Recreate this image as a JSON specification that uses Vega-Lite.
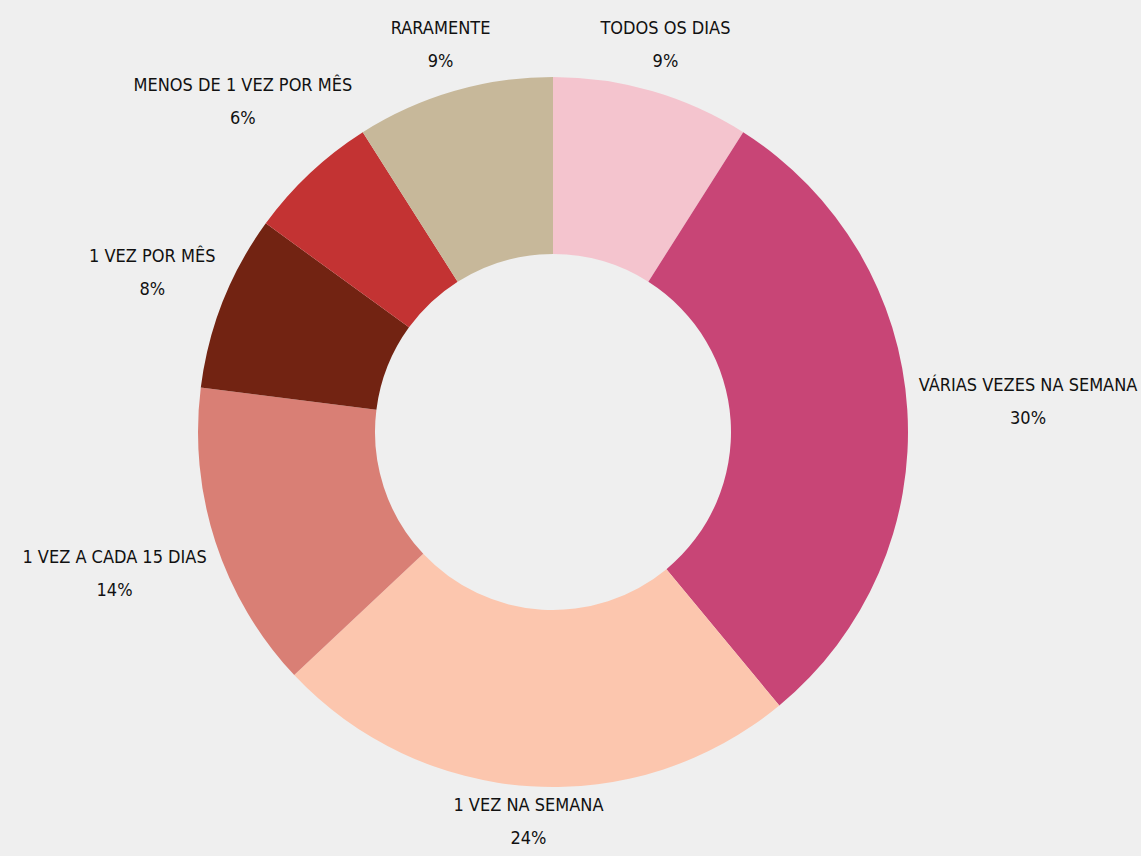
{
  "$schema": "https://vega.github.io/schema/vega-lite/v6.json",
  "width": 1106,
  "height": 856,
  "padding": {"left": 0, "top": 4, "right": 35, "bottom": 0},
  "autosize": {"type": "none"},
  "background": "#EFEFEF",
  "config": {"view": {"stroke": null}, "text": {"align": "center", "baseline": "middle", "dy": -16, "lineBreak": "\n", "lineHeight": 33, "font": "DejaVu Sans Condensed", "fontSize": 18, "color": "#111111"}},
  "data": {
    "values": [
      {"i": 1, "cat": "TODOS OS DIAS", "pct": 9},
      {"i": 2, "cat": "VÁRIAS VEZES NA SEMANA", "pct": 30},
      {"i": 3, "cat": "1 VEZ NA SEMANA", "pct": 24},
      {"i": 4, "cat": "1 VEZ A CADA 15 DIAS", "pct": 14},
      {"i": 5, "cat": "1 VEZ POR MÊS", "pct": 8},
      {"i": 6, "cat": "MENOS DE 1 VEZ POR MÊS", "pct": 6},
      {"i": 7, "cat": "RARAMENTE", "pct": 9}
    ]
  },
  "transform": [{"calculate": "datum.cat + '\\n' + datum.pct + '%'", "as": "label"}],
  "encoding": {
    "theta": {"field": "pct", "type": "quantitative", "stack": true},
    "order": {"field": "i", "type": "quantitative"},
    "detail": {"field": "cat", "type": "nominal"}
  },
  "layer": [
    {
      "mark": {"type": "arc", "outerRadius": 355, "innerRadius": 178},
      "encoding": {
        "color": {
          "field": "cat",
          "type": "nominal",
          "scale": {
            "domain": ["TODOS OS DIAS", "VÁRIAS VEZES NA SEMANA", "1 VEZ NA SEMANA", "1 VEZ A CADA 15 DIAS", "1 VEZ POR MÊS", "MENOS DE 1 VEZ POR MÊS", "RARAMENTE"],
            "range": ["#F4C4CE", "#C84576", "#FCC6AE", "#D97F75", "#722312", "#C33333", "#C7B89A"]
          },
          "legend": null
        }
      }
    },
    {
      "mark": {"type": "text", "radius": 403},
      "encoding": {"text": {"condition": {"test": "datum.cat === 'TODOS OS DIAS' || datum.cat === 'RARAMENTE'", "field": "label"}, "value": ""}}
    },
    {
      "mark": {"type": "text", "radius": 476},
      "encoding": {"text": {"condition": {"test": "datum.cat === 'VÁRIAS VEZES NA SEMANA'", "field": "label"}, "value": ""}}
    },
    {
      "mark": {"type": "text", "radius": 391},
      "encoding": {"text": {"condition": {"test": "datum.cat === '1 VEZ NA SEMANA'", "field": "label"}, "value": ""}}
    },
    {
      "mark": {"type": "text", "radius": 461},
      "encoding": {"text": {"condition": {"test": "datum.cat === '1 VEZ A CADA 15 DIAS'", "field": "label"}, "value": ""}}
    },
    {
      "mark": {"type": "text", "radius": 431},
      "encoding": {"text": {"condition": {"test": "datum.cat === '1 VEZ POR MÊS'", "field": "label"}, "value": ""}}
    },
    {
      "mark": {"type": "text", "radius": 453},
      "encoding": {"text": {"condition": {"test": "datum.cat === 'MENOS DE 1 VEZ POR MÊS'", "field": "label"}, "value": ""}}
    }
  ]
}
